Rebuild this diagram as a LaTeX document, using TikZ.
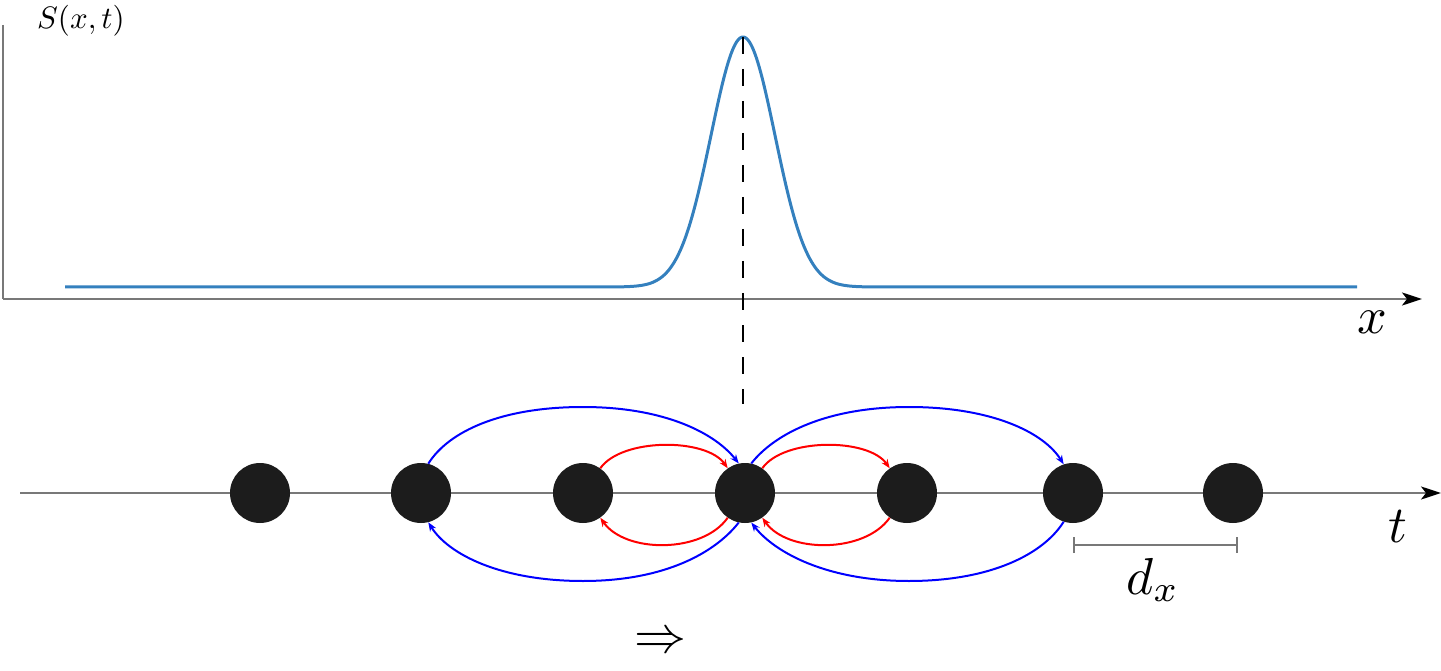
\documentclass[tikz,border=0pt]{standalone}
\usetikzlibrary{arrows.meta}
\definecolor{curveblue}{RGB}{52,128,190}
\definecolor{axisgray}{RGB}{120,120,120}
\definecolor{dotblack}{RGB}{28,28,28}
\tikzset{
  axisline/.style={draw=axisgray,line width=2.2pt,-{Stealth[length=20pt,width=13pt,inset=5pt,color=black]}},
  dot/.style={circle,fill=dotblack,minimum size=60pt,inner sep=0pt},
  bluearc/.style={draw=blue,line width=2pt,-{Stealth[length=9pt,width=7pt]}},
  redarc/.style={draw=red,line width=2pt,-{Stealth[length=9pt,width=7pt]}},
  biglabel/.style={scale=5.2,inner sep=0pt},
}
\begin{document}
\begin{tikzpicture}[x=1pt,y=-1pt]
\useasboundingbox (0,0) rectangle (1441,671);
% top axes
\coordinate (yaxtop) at (3,25);
\coordinate (origin) at (3,299);
\coordinate (xaxend) at (1422,299);
\draw[draw=axisgray,line width=2.2pt] (yaxtop) -- (origin);
\draw[axisline] (origin) -- (xaxend);
\node[biglabel] (xlab) at (1372,322) {$x$};
\node[scale=3.1,inner sep=0pt] (slab) at (81,21) {$S(x,t)$};
% gaussian
\draw[curveblue,line width=3pt,line join=round]
  (65,287) -- (598,287) -- plot[domain=598:888,samples=160,smooth] (\x,{287-250*exp(-((\x-743)/32)^2/2)}) -- (1357,287);
% dashed line
\coordinate (peak) at (743,37);
\coordinate (dashend) at (743,404);
\draw[black,line width=2pt,dash pattern=on 17pt off 15pt] (peak) -- (dashend);
% bottom axis
\coordinate (tstart) at (20,493);
\coordinate (tend) at (1441,493);
\draw[axisline] (tstart) -- (tend);
\node[biglabel] (tlab) at (1398,527) {$t$};
% dots
\node[dot] (n1) at (260,493) {};
\node[dot] (n2) at (421,493) {};
\node[dot] (n3) at (583,493) {};
\node[dot] (n4) at (745,493) {};
\node[dot] (n5) at (907,493) {};
\node[dot] (n6) at (1073,493) {};
\node[dot] (n7) at (1233,493) {};
% blue arcs (controls in flipped y: negative angle points up)
\coordinate (lt) at (583,407);
\coordinate (lb) at (583,581);
\coordinate (rt) at (909,407);
\coordinate (rb) at (909,581);
\draw[bluearc] (n2.76) .. controls +(-58:38) and +(-82,0) .. (lt)
  .. controls +(82,0) and +(-128:38) .. (n4.102);
\draw[bluearc] (n4.-102) .. controls +(128:38) and +(82,0) .. (lb)
  .. controls +(-82,0) and +(58:38) .. (n2.-76);
\draw[bluearc] (n4.78) .. controls +(-52:38) and +(-82,0) .. (rt)
  .. controls +(82,0) and +(-122:38) .. (n6.108);
\draw[bluearc] (n6.-108) .. controls +(122:38) and +(82,0) .. (rb)
  .. controls +(-82,0) and +(52:38) .. (n4.-78);
% red arcs
\draw[redarc] (n3) to[out=55,in=125,looseness=0.75] (n4);
\draw[redarc] (n4) to[out=-125,in=-55,looseness=0.88] (n3);
\draw[redarc] (n4) to[out=55,in=125,looseness=0.75] (n5);
\draw[redarc] (n5) to[out=-125,in=-55,looseness=0.88] (n4);
% d_x bar
\coordinate (dxa) at (1073,545);
\coordinate (dxb) at (1238,545);
\draw[draw=axisgray,line width=2pt,{Bar[width=16pt]}-{Bar[width=16pt]}] (dxa) -- (dxb);
\node[biglabel] (dxlab) at (1153,580) {$d_x$};
% implies
\node[biglabel] (impl) at (660,643) {$\Rightarrow$};
\end{tikzpicture}
\end{document}
